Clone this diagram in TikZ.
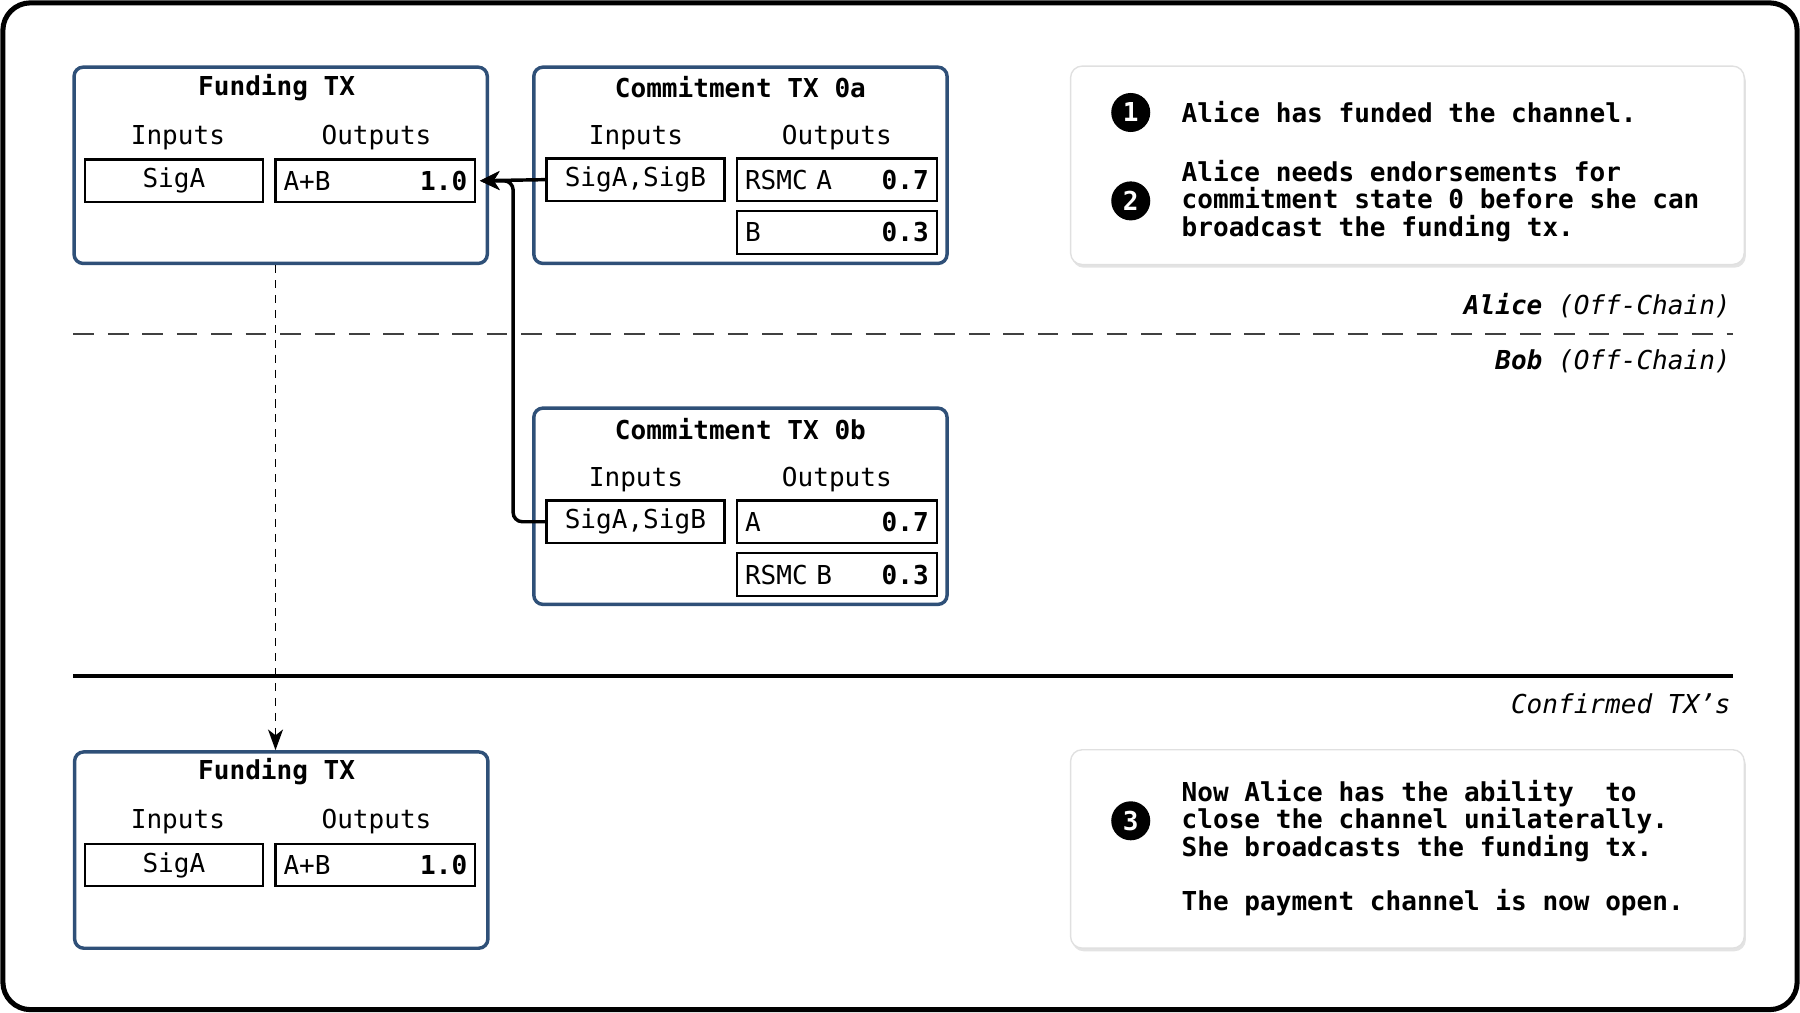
\documentclass[tikz,border=0pt]{standalone}
\usepackage{fontspec}
\setmainfont{DejaVu Sans Mono}[
  BoldFont={DejaVu Sans Mono Bold},
  ItalicFont={DejaVu Sans Mono Oblique},
  BoldItalicFont={DejaVu Sans Mono Bold Oblique}]
\usetikzlibrary{arrows.meta,positioning,shadows}
\definecolor{txblue}{HTML}{2F5078}

\begin{document}
\begin{tikzpicture}[
        x=0.5pt, y=0.5pt,
        font=\fontsize{11.35}{12}\selectfont,
        tx/.style={draw=txblue, line width=1.5pt, rounded corners=4pt, minimum width=180pt, minimum height=85.5pt},
        cell/.style={draw, line width=1pt, minimum height=18.5pt, inner xsep=3.5pt, inner ysep=0pt},
        incell/.style={cell, minimum width=77.5pt},
        outcell/.style={cell, text width=80pt, align=left},
        title/.style={font=\fontsize{11.35}{12}\selectfont\bfseries},
        note/.style={draw=black!12, fill=white, rounded corners=5pt, line width=0.6pt, minimum width=293.4pt, minimum height=86.4pt,
            drop shadow={opacity=0.22, shadow xshift=0.7pt, shadow yshift=-1.4pt}},
        notetext/.style={anchor=west, inner sep=0pt, align=left, font=\fontsize{11.35}{12}\selectfont\bfseries},
        num/.style={circle, fill=black, text=white, font=\fontsize{11.35}{12}\selectfont\bfseries, inner sep=0pt, minimum size=17pt},
        side/.style={anchor=east, inner sep=0pt},
        flow/.style={line width=1.5pt, -{Stealth[length=8.5pt, width=8pt, inset=2.5pt]}, shorten >=1.5pt},
        dashflow/.style={line width=0.8pt, dash pattern=on 3.5pt off 3pt, -{Stealth[length=9pt, width=6.5pt, inset=2.5pt]}}
    ]
    \useasboundingbox (0,0) rectangle (1568,-882);

    % Frame and separators
    \draw[line width=2.2pt, rounded corners=12pt] (2.5,-2.5) rectangle (1565.5,-879.5);
    \draw[line width=0.8pt, black!75, dash pattern=on 9pt off 6pt] (64,-291) -- (1510,-291);
    \draw[line width=1.5pt] (64,-589) -- (1510,-589);

    \node[side] (alice) at (1508,-266) {\textbf{\textit{Alice}} \textit{(Off-Chain)}};
    \node[side] (bob) at (1508,-315) {\textbf{\textit{Bob}} \textit{(Off-Chain)}};
    \node[side] (confirmed) at (1508,-613) {\textit{Confirmed TX's}};

    % Funding TX (off-chain)
    \node[tx] (fund1) at (244.5,-144) {};
    \node[title] (fund1-t) at (241,-76) {Funding TX};
    \node (fund1-il) at (155,-120) {Inputs};
    \node (fund1-ol) at (328,-120) {Outputs};
    \node[incell] (fund1-in) at (151.5,-157.5) {SigA};
    \node[outcell, right=4.5pt of fund1-in] (fund1-out) {A+B\hfill\textbf{1.0}};

    % Commitment TX 0a
    \node[tx] (c0a) at (645,-144) {};
    \node[title] (c0a-t) at (645,-76) {Commitment TX 0a};
    \node (c0a-il) at (554,-120) {Inputs};
    \node (c0a-ol) at (729,-120) {Outputs};
    \node[incell] (c0a-in) at (553.5,-156.5) {SigA,SigB};
    \node[outcell, right=4.5pt of c0a-in] (c0a-out1) {RSMC A\hfill\textbf{0.7}};
    \node[outcell, below=3.5pt of c0a-out1] (c0a-out2) {B\hfill\textbf{0.3}};

    % Commitment TX 0b
    \node[tx] (c0b) at (645,-441) {};
    \node[title] (c0b-t) at (645,-374) {Commitment TX 0b};
    \node (c0b-il) at (554,-418) {Inputs};
    \node (c0b-ol) at (729,-418) {Outputs};
    \node[incell] (c0b-in) at (553.5,-454.5) {SigA,SigB};
    \node[outcell, right=4.5pt of c0b-in] (c0b-out1) {A\hfill\textbf{0.7}};
    \node[outcell, below=3.5pt of c0b-out1] (c0b-out2) {RSMC B\hfill\textbf{0.3}};

    % Funding TX (confirmed)
    \node[tx] (fund2) at (245,-740.5) {};
    \node[title] (fund2-t) at (241,-672) {Funding TX};
    \node (fund2-il) at (155,-716) {Inputs};
    \node (fund2-ol) at (328,-716) {Outputs};
    \node[incell] (fund2-in) at (151.5,-753.5) {SigA};
    \node[outcell, right=4.5pt of fund2-in] (fund2-out) {A+B\hfill\textbf{1.0}};

    % Notes
    \node[note] (note1) at (1226,-144) {};
    \node[num] (num1) at (985,-98) {1};
    \node[notetext] (text1) at (1029,-98) {Alice has funded the channel.};
    \node[num] (num2) at (985,-175) {2};
    \node[notetext] (text2) at (1029,-175) {Alice needs endorsements for\\
        commitment state 0 before she can\\
        broadcast the funding tx.};

    \node[note] (note3) at (1226,-739.5) {};
    \node[num] (num3) at (985,-715) {3};
    \node[notetext] (text3) at (1029,-738.5) {Now Alice has the ability\ \ to\\
        close the channel unilaterally.\\
        She broadcasts the funding tx.\\[11.5pt]
        The payment channel is now open.};

    % Edges
    \draw[flow] (c0a-in.west) -- (fund1-out.east);
    \draw[flow, rounded corners=4pt] (c0b-in.west) -- ++(-28,0) |- (fund1-out.east);
    \draw[dashflow] ([xshift=-2.25pt]fund1.south) -- ([xshift=-2.5pt]fund2.north);

\end{tikzpicture}
\end{document}
